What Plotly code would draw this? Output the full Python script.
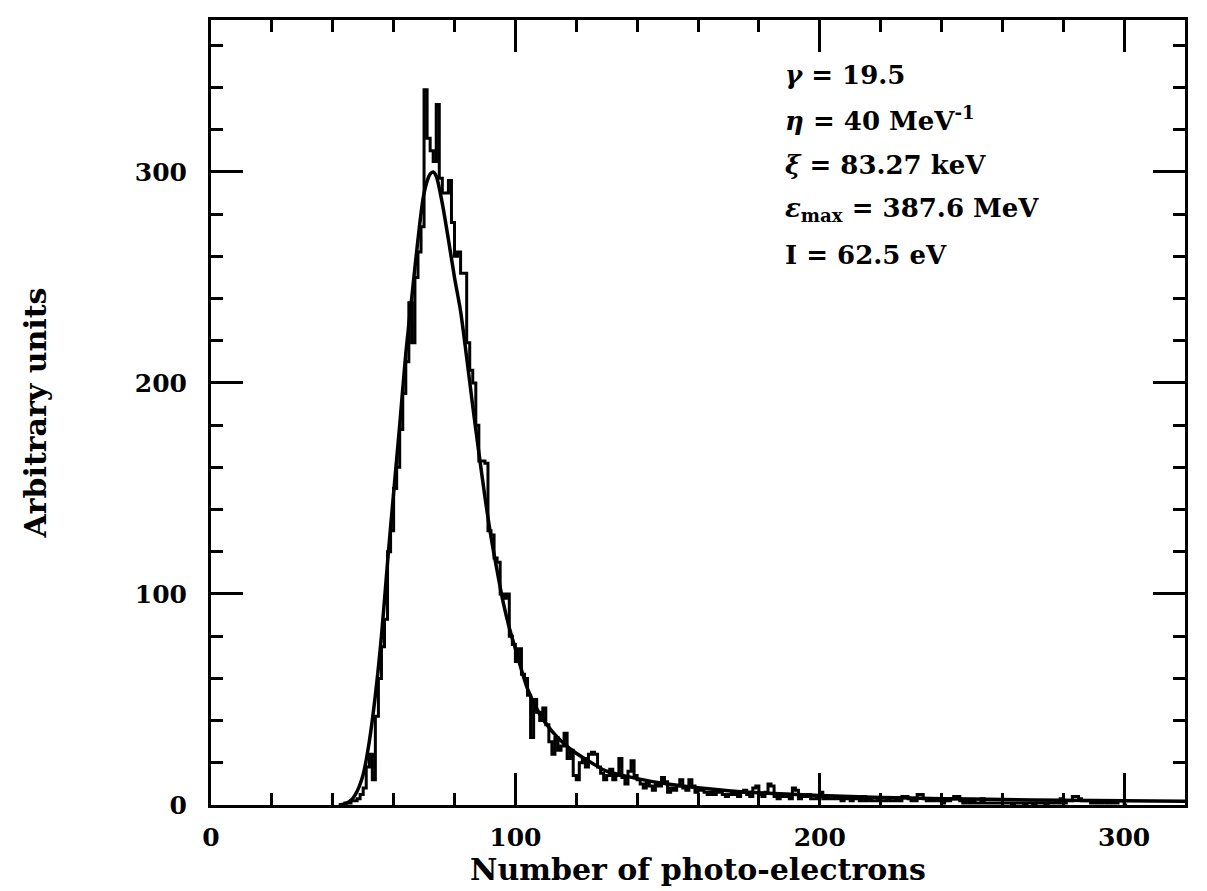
import plotly.graph_objects as go

# ---------------- data ----------------
bin_start = 42          # left edge of first histogram bin (photo-electrons)
bin_width = 1
hist_counts = [
    0, 0, 1, 1, 2, 2, 3, 5,                     # 42-49
    8, 18, 24, 12, 42, 60, 75, 88, 120, 130,    # 50-59
    150, 160, 178, 195, 210, 238, 219, 250, 262, 274,   # 60-69
    339, 316, 310, 305, 332, 297, 290, 290, 296, 276,   # 70-79
    260, 262, 252, 252, 219, 206, 200, 180, 163, 163,   # 80-89
    162, 130, 128, 117, 115, 100, 98, 100, 80, 76,      # 90-99
    68, 74, 62, 60, 52, 32, 50, 44, 40, 46,             # 100-109
    38, 30, 24, 32, 26, 28, 34, 22, 26, 14,             # 110-119
    12, 20, 22, 18, 24, 25, 24, 18, 15, 12,             # 120-129
    14, 17, 12, 14, 22, 13, 10, 16, 21, 14,             # 130-139
    12, 10, 8, 11, 9, 7, 10, 9, 13, 11,                 # 140-149
    6, 8, 7, 9, 12, 8, 7, 12, 9, 6,                     # 150-159
    7, 7, 6, 5, 6, 5, 7, 6, 5, 4,                       # 160-169
    5, 6, 5, 4, 6, 7, 5, 4, 8, 9,                       # 170-179
    5, 4, 6, 10, 9, 4, 3, 4, 5, 4,                      # 180-189
    3, 8, 7, 3, 4, 4, 5, 3, 3, 4,                       # 190-199
    6, 3, 4, 3, 3, 4, 3, 2, 3, 3,                       # 200-209
    2, 3, 3, 2, 4, 2, 3, 2, 2, 3,                       # 210-219
    2, 2, 3, 2, 2, 3, 2, 4, 4, 3,                       # 220-229
    2, 2, 5, 5, 3, 2, 3, 2, 2, 2,                       # 230-239
    1, 2, 2, 3, 4, 4, 2, 1, 2, 1,                       # 240-249
    2, 1, 1, 3, 1, 1, 1, 1, 1, 1,                       # 250-259
    1, 1, 1, 0, 1, 1, 1, 0, 1, 1,                       # 260-269
    0, 1, 1, 1, 0, 1, 1, 1, 1, 3,                       # 270-279
    1, 2, 2, 4, 4, 3, 2, 2, 2, 1,                       # 280-289
    1, 1, 1, 2, 1, 1, 2, 1, 2, 2,                       # 290-299
    0,                                                  # 300
]

fit_x = [42, 44, 46, 48, 50, 52, 54, 56, 58, 60, 62, 64, 66, 68, 70, 72, 73,
         74, 76, 78, 80, 82, 84, 86, 88, 90, 92, 94, 96, 98, 100, 104, 108, 112,
         116, 120, 125, 130, 140, 150, 160, 170, 180, 200, 220, 240, 260, 280, 300, 320]
fit_y = [0, 0.5, 2.2, 6.5, 14.5, 30, 52, 80, 115, 148, 180, 214, 241, 268, 290, 299, 300,
         298, 285, 268, 250, 234, 212, 189, 167, 146, 127, 111, 96, 84, 74, 55, 43, 35,
         29, 24.5, 20, 16, 12.5, 10, 8.2, 6.8, 5.8, 4.5, 3.6, 3.0, 2.6, 2.2, 2.0, 1.8]

x_tick_vals = [0, 100, 200, 300]
y_tick_vals = [0, 100, 200, 300]

labels = [
    "<i>γ</i> = 19.5",
    "<i>η</i> = 40 MeV<sup>-1</sup>",
    "<i>ξ</i> = 83.27 keV",
    "<i>ε</i><sub>max</sub> = 387.6 MeV",
    "I = 62.5 eV",
]

# ---------------- figure ----------------
edges = [bin_start + i * bin_width for i in range(len(hist_counts))]
hx = edges + [edges[-1] + bin_width]
hy = hist_counts + [hist_counts[-1]]

FONT = "DejaVu Serif"

fig = go.Figure()
fig.add_trace(go.Scatter(
    x=hx, y=hy, mode="lines", line=dict(color="black", width=3, shape="hv"),
    showlegend=False, hoverinfo="skip"))
fig.add_trace(go.Scatter(
    x=fit_x, y=fit_y, mode="lines", line=dict(color="black", width=3.5, shape="spline", smoothing=0.8),
    showlegend=False, hoverinfo="skip"))

label_y = [346, 325, 303.5, 282, 260.5]
for txt, yy in zip(labels, label_y):
    fig.add_annotation(x=188, y=yy, xref="x", yref="y", text=txt, showarrow=False,
                       xanchor="left", yanchor="middle",
                       font=dict(family=FONT, size=26, color="black", weight="bold"))

axis_common = dict(
    showgrid=False, zeroline=False, showline=True, linecolor="black", linewidth=3,
    mirror="ticks", ticks="inside", ticklen=32, tickwidth=3, tickcolor="black",
    tickfont=dict(family=FONT, size=25, color="black", weight="bold"),
    minor=dict(ticks="inside", ticklen=12, tickwidth=2.5, tickcolor="black", dtick=20, showgrid=False),
)

fig.update_xaxes(range=[0, 320], tickvals=x_tick_vals, ticklabelstandoff=8,
                 title=dict(text="Number of photo-electrons", standoff=0,
                            font=dict(family=FONT, size=30, color="black", weight="bold")),
                 **axis_common)
fig.update_yaxes(range=[0, 372], tickvals=y_tick_vals, ticklabelstandoff=16,
                 title=dict(text="Arbitrary units", standoff=80,
                            font=dict(family=FONT, size=30, color="black", weight="bold")),
                 **axis_common)

fig.update_layout(
    width=1207, height=891,
    margin=dict(l=211, r=22, t=20, b=86),
    plot_bgcolor="white", paper_bgcolor="white",
)

fig.write_html("out.html")
